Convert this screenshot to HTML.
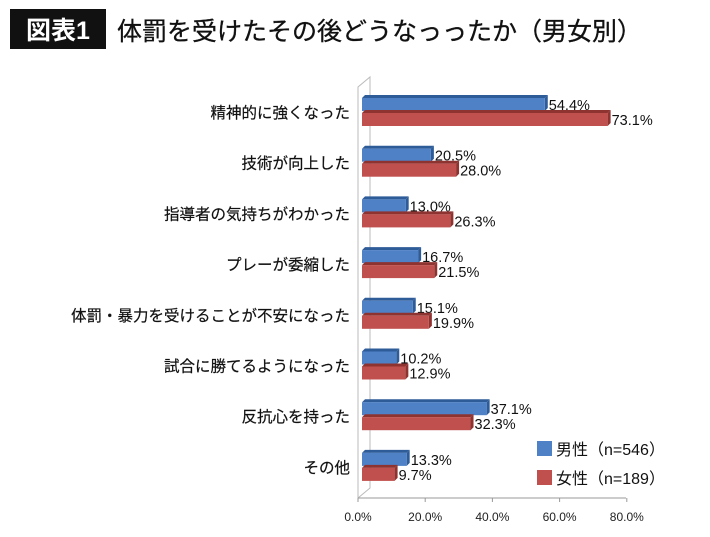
<!DOCTYPE html>
<html><head><meta charset="utf-8"><style>
body{margin:0;width:710px;height:532px;background:#fff;overflow:hidden;font-family:"Liberation Sans","Noto Sans CJK JP",sans-serif;}
</style></head><body>
<svg width="710" height="532" xmlns="http://www.w3.org/2000/svg" font-family="Liberation Sans, Noto Sans CJK JP, sans-serif">
<rect x="10" y="9" width="96" height="40" fill="#111"/>
<text x="58" y="39" font-size="25" font-weight="bold" fill="#fff" text-anchor="middle">図表1</text>
<text x="117" y="40" font-size="25" fill="#111" stroke="#111" stroke-width="0.3">体罰を受けたその後どうなっったか（男女別）</text>
<path d="M358 498 L370 488 L370 77 L358 87 Z" fill="none" stroke="#bbb" stroke-width="1"/>
<line x1="358" y1="498" x2="626" y2="498" stroke="#999"/>
<g id="ticks"></g>
<g id="bars"></g>
<g id="cats"></g>
<rect x="537" y="441" width="15" height="15" fill="#4f81c7"/>
<text x="556" y="455" font-size="16" fill="#111">男性（n=546）</text>
<rect x="537" y="470" width="15" height="15" fill="#c0504d"/>
<text x="556" y="484" font-size="16" fill="#111">女性（n=189）</text>
</svg>
<script>
const categories=["精神的に強くなった","技術が向上した","指導者の気持ちがわかった","プレーが委縮した","体罰・暴力を受けることが不安になった","試合に勝てるようになった","反抗心を持った","その他"];
const maleValues=[54.4,20.5,13.0,16.7,15.1,10.2,37.1,13.3];
const femaleValues=[73.1,28.0,26.3,21.5,19.9,12.9,32.3,9.7];
const tickValues=[0,20,40,60,80];
const NS="http://www.w3.org/2000/svg";
const x0=362,pxPer=3.36;
function xs(v){return x0+v*pxPer;}
function yc(i){return 112+i*50.7;}
function mk(tag,attrs,parent){const e=document.createElementNS(NS,tag);for(const k in attrs)e.setAttribute(k,attrs[k]);parent.appendChild(e);return e;}
const tg=document.getElementById('ticks'),bg=document.getElementById('bars'),cg=document.getElementById('cats');
tickValues.forEach(t=>{const x=358+t*3.36;
const l=mk('line',{x1:x,y1:498,x2:x,y2:502,stroke:'#999'},tg);


const tx=mk('text',{x:x,y:521,'font-size':12,'text-anchor':'middle',fill:'#222'},tg);


tx.textContent=t.toFixed(1)+'%';});
categories.forEach((c,i)=>{const y=yc(i);
const t=mk('text',{x:350,y:y+6,'font-size':15.5,'text-anchor':'end',fill:'#111',stroke:'#111','stroke-width':0.2},cg);


t.textContent=c;
[[maleValues[i],'#4f81c7','#2e5c99',-15,'bar-male'],[femaleValues[i],'#c0504d','#8f3331',0,'bar-female']].forEach(([v,f,d,off,nm])=>{
const top=y+off+1,w=xs(v)-x0;
const side=mk('path',{d:`M${x0+w} ${top} l3 -3 l0 13 l-3 3 Z`,fill:d},bg);


const topf=mk('path',{d:`M${x0} ${top} l3 -3 l${w} 0 l-3 3 Z`,fill:d},bg);


const r=mk('rect',{x:x0,y:top,width:w,height:13,fill:f},bg);


const lb=mk('text',{x:xs(v)+4,y:top+12,'font-size':14.5,fill:'#111'},bg);


lb.textContent=v.toFixed(1)+'%';
});});
</script>
</body></html>
